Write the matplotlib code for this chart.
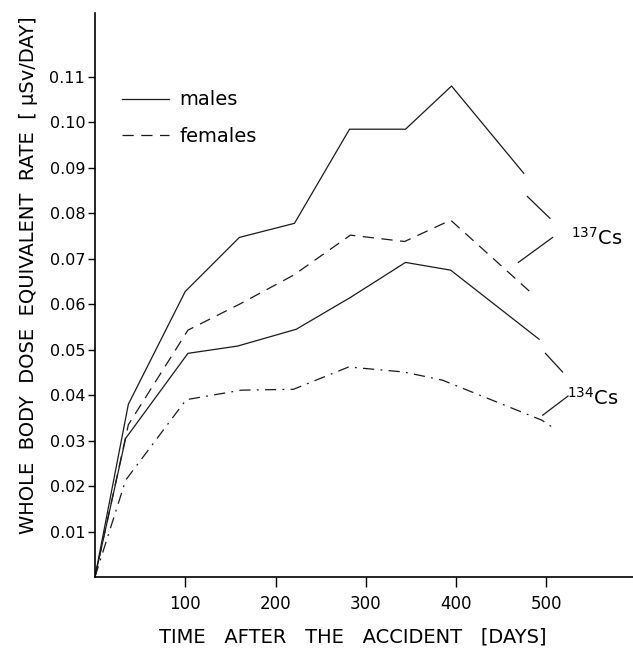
"""Whole body dose equivalent rate of 137Cs and 134Cs after the accident."""

import matplotlib

matplotlib.use("Agg")
import matplotlib.pyplot as plt

plt.rcParams["font.family"] = ["DejaVu Sans"]

# days after the accident and dose rates (uSv/day)
cs137_male_days = [0, 37, 100, 160, 221, 282, 344, 395, 475]
cs137_male_rate = [0.0, 0.0380, 0.0628, 0.0747, 0.0778, 0.0985, 0.0985, 0.1080, 0.0888]

cs137_female_days = [0, 37, 103, 160, 220, 283, 343, 394, 485]
cs137_female_rate = [0.0, 0.0335, 0.0543, 0.0600, 0.0664, 0.0752, 0.0738, 0.0785, 0.0622]

cs134_male_days = [0, 34, 103, 158, 223, 283, 344, 394, 492]
cs134_male_rate = [0.0, 0.0305, 0.0492, 0.0508, 0.0545, 0.0615, 0.0692, 0.0675, 0.0523]

cs134_female_days = [0, 34, 101, 162, 220, 281, 342, 385, 495, 510]
cs134_female_rate = [0.0, 0.0213, 0.0390, 0.0411, 0.0413, 0.0462, 0.0451, 0.0433, 0.0345, 0.0325]

x_ticks = [100, 200, 300, 400, 500]
y_ticks = [0.01, 0.02, 0.03, 0.04, 0.05, 0.06, 0.07, 0.08, 0.09, 0.10, 0.11]

# isotope labels with their two leader lines (days, rate)
isotope_labels = ["$^{137}$Cs", "$^{134}$Cs"]
label_anchor = [(527, 0.0730), (523, 0.0378)]
leader_upper = [((479, 0.0837), (504, 0.0789)), ((499, 0.0492), (518, 0.0451))]
leader_lower = [((469, 0.0692), (507, 0.0747)), ((496, 0.0356), (524, 0.0398))]

LINE = dict(color="#1a1a1a", linewidth=0.9)

fig = plt.figure(figsize=(6.33, 6.54), dpi=100)
ax = fig.add_axes([0.150, 0.1177, 0.850, 0.862])

ax.plot(cs137_male_days, cs137_male_rate, linestyle="-", label="males", **LINE)
ax.plot(cs137_female_days, cs137_female_rate, linestyle=(0, (9, 6)), label="females", **LINE)
ax.plot(cs134_male_days, cs134_male_rate, linestyle="-", **LINE)
ax.plot(cs134_female_days, cs134_female_rate, linestyle=(0, (9, 5, 1.5, 5)), **LINE)

for text, anchor, upper, lower in zip(isotope_labels, label_anchor, leader_upper, leader_lower):
    for seg in (upper, lower):
        ax.plot([seg[0][0], seg[1][0]], [seg[0][1], seg[1][1]], **LINE)
    ax.text(anchor[0], anchor[1], text, fontsize=14, ha="left", va="baseline")

ax.set_xlim(0, 596)
ax.set_ylim(0, 0.124)
ax.set_xticks(x_ticks)
ax.set_xticklabels([str(t) for t in x_ticks])
ax.set_yticks(y_ticks)
ax.set_yticklabels([f"{t:.2f}" for t in y_ticks])
ax.tick_params(axis="x", direction="out", length=7, width=1, labelsize=12, pad=6)
ax.tick_params(axis="y", direction="out", length=5, width=1, labelsize=11.5, pad=2)

for side in ("top", "right"):
    ax.spines[side].set_visible(False)
for side in ("left", "bottom"):
    ax.spines[side].set_linewidth(1.2)

ax.set_xlabel("TIME   AFTER   THE   ACCIDENT   [DAYS]", fontsize=14)
ax.xaxis.set_label_coords(0.48, -0.09)
ax.set_ylabel("WHOLE  BODY  DOSE  EQUIVALENT  RATE  [ µSv/DAY]", fontsize=14)
ax.yaxis.set_label_coords(-0.105, 0.535)

ax.legend(loc="center left", bbox_to_anchor=(0.050, 0.814), frameon=False, fontsize=14,
          handlelength=2.45, handletextpad=0.5, labelspacing=0.9, borderpad=0, borderaxespad=0)

fig.savefig("out.png", dpi=100)
plt.close(fig)
